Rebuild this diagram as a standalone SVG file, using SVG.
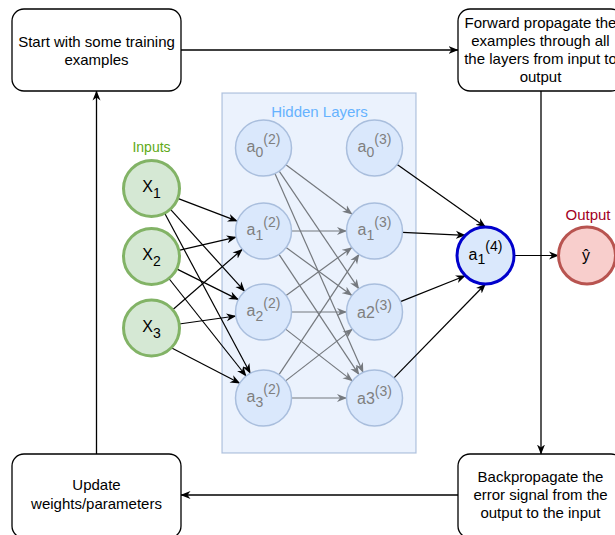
<svg xmlns="http://www.w3.org/2000/svg" width="615" height="535" viewBox="0 0 615 535">
<style>
text{font-family:"Liberation Sans",Arial,sans-serif}
.box{fill:#fff;stroke:#000;stroke-width:1.3}
.bt{font-size:15px;fill:#000;text-anchor:middle}
.in{fill:#d5e8d4;stroke:#82b366;stroke-width:3}
.hid{fill:#dae8fc;stroke:#a9bedd;stroke-width:1.5}
.ht{font-size:16px;fill:#7f7f7f;text-anchor:middle}
.nt{font-size:16px;fill:#000;text-anchor:middle}
.s{font-size:14px}
.e{fill:none;stroke:#000;stroke-width:1.2;marker-end:url(#ab)}
.g{fill:none;stroke:#75797e;stroke-width:1.2;marker-end:url(#ag)}
.f{fill:none;stroke:#000;stroke-width:1.3;marker-end:url(#ab)}
</style>
<defs>
<marker id="ab" viewBox="0 0 10 10" refX="9.5" refY="5" markerWidth="10" markerHeight="10" markerUnits="userSpaceOnUse" orient="auto"><path d="M0,1 L10,5 L0,9 L3,5 Z" fill="#000"/></marker>
<marker id="ag" viewBox="0 0 10 10" refX="9.5" refY="5" markerWidth="10" markerHeight="10" markerUnits="userSpaceOnUse" orient="auto"><path d="M0,1 L10,5 L0,9 L3,5 Z" fill="#75797e"/></marker>
</defs>

<g id="hidden-layers">
<rect x="222" y="93" width="194" height="360" fill="#dae8fc" fill-opacity="0.55" stroke="#6c8ebf" stroke-opacity="0.5" stroke-width="1.2"/>
<text x="319.5" y="117" style="font-size:15px;fill:#66b2ff;text-anchor:middle">Hidden Layers</text>
</g>

<g id="connectors">
<path class="f" d="M181,50 H458"/>
<path class="f" d="M541,91 V454"/>
<path class="f" d="M458,495 H181"/>
<path class="f" d="M96.5,454 V91"/>
<!-- inputs to layer 2 -->
<path class="e" d="M177.7,198.4 L237.3,221.1"/>
<path class="e" d="M170.3,209.2 L244.7,291.3"/>
<path class="e" d="M164.7,213.2 L250.3,373.3"/>
<path class="e" d="M178.8,250.3 L236.2,237.2"/>
<path class="e" d="M176.6,268.9 L238.4,299.6"/>
<path class="e" d="M168.9,278.5 L246.1,376"/>
<path class="e" d="M172.7,309.7 L242.3,249.3"/>
<path class="e" d="M179.2,324 L235.8,316"/>
<path class="e" d="M171.3,347.8 L239.8,383.2"/>
<!-- layer 2 to layer 3 -->
<path class="g" d="M285.9,164.8 L352.1,214.2"/>
<path class="g" d="M279.2,171.2 L358.8,288.8"/>
<path class="g" d="M274.9,173.6 L363.1,372.4"/>
<path class="g" d="M291.5,231 L346.5,231"/>
<path class="g" d="M286.1,247.5 L351.9,295.5"/>
<path class="g" d="M279,254.3 L359,374.7"/>
<path class="g" d="M286.1,295.5 L351.9,247.5"/>
<path class="g" d="M291.5,312 L346.5,312"/>
<path class="g" d="M285.6,329.1 L352.4,380.9"/>
<path class="g" d="M279,374.7 L359,254.3"/>
<path class="g" d="M285.6,380.9 L352.4,329.1"/>
<path class="g" d="M291.5,398 L346.5,398"/>
<!-- layer 3 to output unit -->
<path class="e" d="M397.2,164.4 L485.5,227"/>
<path class="e" d="M402.5,232.3 L465.3,235.3"/>
<path class="e" d="M400.5,301.6 L465.3,275.7"/>
<path class="e" d="M394,377.9 L485.5,284"/>
<path class="e" d="M514,255.5 L558.5,255.5"/>
</g>

<g id="box-start">
<rect class="box" x="12" y="9" width="169" height="82" rx="12"/>
<text class="bt" x="96.5" y="47">Start with some training</text>
<text class="bt" x="96.5" y="65">examples</text>
</g>
<g id="box-forward">
<rect class="box" x="458" y="9" width="165" height="82" rx="12"/>
<text class="bt" x="540.5" y="28">Forward propagate the</text>
<text class="bt" x="540.5" y="46">examples through all</text>
<text class="bt" x="540.5" y="64">the layers from input to</text>
<text class="bt" x="540.5" y="82">output</text>
</g>
<g id="box-backprop">
<rect class="box" x="458" y="454" width="165" height="84" rx="12"/>
<text class="bt" x="540.5" y="482">Backpropagate the</text>
<text class="bt" x="540.5" y="500">error signal from the</text>
<text class="bt" x="540.5" y="518">output to the input</text>
</g>
<g id="box-update">
<rect class="box" x="12" y="454" width="169" height="84" rx="12"/>
<text class="bt" x="96.5" y="490">Update</text>
<text class="bt" x="96.5" y="509">weights/parameters</text>
</g>

<g id="inputs-label"><text x="151.5" y="152" style="font-size:14px;fill:#60a917;text-anchor:middle">Inputs</text></g>
<g id="x1"><circle class="in" cx="151.5" cy="188.5" r="28"/><text class="nt" x="151.5" y="192">X<tspan class="s" dy="6">1</tspan></text></g>
<g id="x2"><circle class="in" cx="151.5" cy="256.5" r="28"/><text class="nt" x="151.5" y="260">X<tspan class="s" dy="6">2</tspan></text></g>
<g id="x3"><circle class="in" cx="151.5" cy="328" r="28"/><text class="nt" x="151.5" y="331.5">X<tspan class="s" dy="6">3</tspan></text></g>

<g id="a0-2"><circle class="hid" cx="263.5" cy="148" r="28"/><text class="ht" x="263.5" y="152.3">a<tspan class="s" dy="4.4">0</tspan><tspan class="s" dy="-12.7">(2)</tspan></text></g>
<g id="a1-2"><circle class="hid" cx="263.5" cy="231" r="28"/><text class="ht" x="263.5" y="235.3">a<tspan class="s" dy="4.4">1</tspan><tspan class="s" dy="-12.7">(2)</tspan></text></g>
<g id="a2-2"><circle class="hid" cx="263.5" cy="312" r="28"/><text class="ht" x="263.5" y="316.3">a<tspan class="s" dy="4.4">2</tspan><tspan class="s" dy="-12.7">(2)</tspan></text></g>
<g id="a3-2"><circle class="hid" cx="263.5" cy="398" r="28"/><text class="ht" x="263.5" y="402.3">a<tspan class="s" dy="4.4">3</tspan><tspan class="s" dy="-12.7">(2)</tspan></text></g>

<g id="a0-3"><circle class="hid" cx="374.5" cy="148" r="28"/><text class="ht" x="374.5" y="152.3">a<tspan class="s" dy="4.4">0</tspan><tspan class="s" dy="-12.7">(3)</tspan></text></g>
<g id="a1-3"><circle class="hid" cx="374.5" cy="231" r="28"/><text class="ht" x="374.5" y="235.3">a<tspan class="s" dy="4.4">1</tspan><tspan class="s" dy="-12.7">(3)</tspan></text></g>
<g id="a2-3"><circle class="hid" cx="374.5" cy="312" r="28"/><text class="ht" x="374.5" y="318">a2<tspan class="s" dy="-8.3">(3)</tspan></text></g>
<g id="a3-3"><circle class="hid" cx="374.5" cy="398" r="28"/><text class="ht" x="374.5" y="404">a3<tspan class="s" dy="-8.3">(3)</tspan></text></g>

<g id="a1-4"><circle cx="485.5" cy="255.5" r="28.5" fill="#dae8fc" stroke="#0000cc" stroke-width="3"/><text class="nt" x="485.5" y="259.5">a<tspan class="s" dy="4.4">1</tspan><tspan class="s" dy="-12.7">(4)</tspan></text></g>

<g id="output-label"><text x="588" y="220" style="font-size:15px;fill:#a20025;text-anchor:middle">Output</text></g>
<g id="y-hat"><circle cx="587" cy="255.5" r="28.5" fill="#f8cecc" stroke="#b85450" stroke-width="3"/><text class="nt" x="586" y="261">ŷ</text></g>
</svg>
